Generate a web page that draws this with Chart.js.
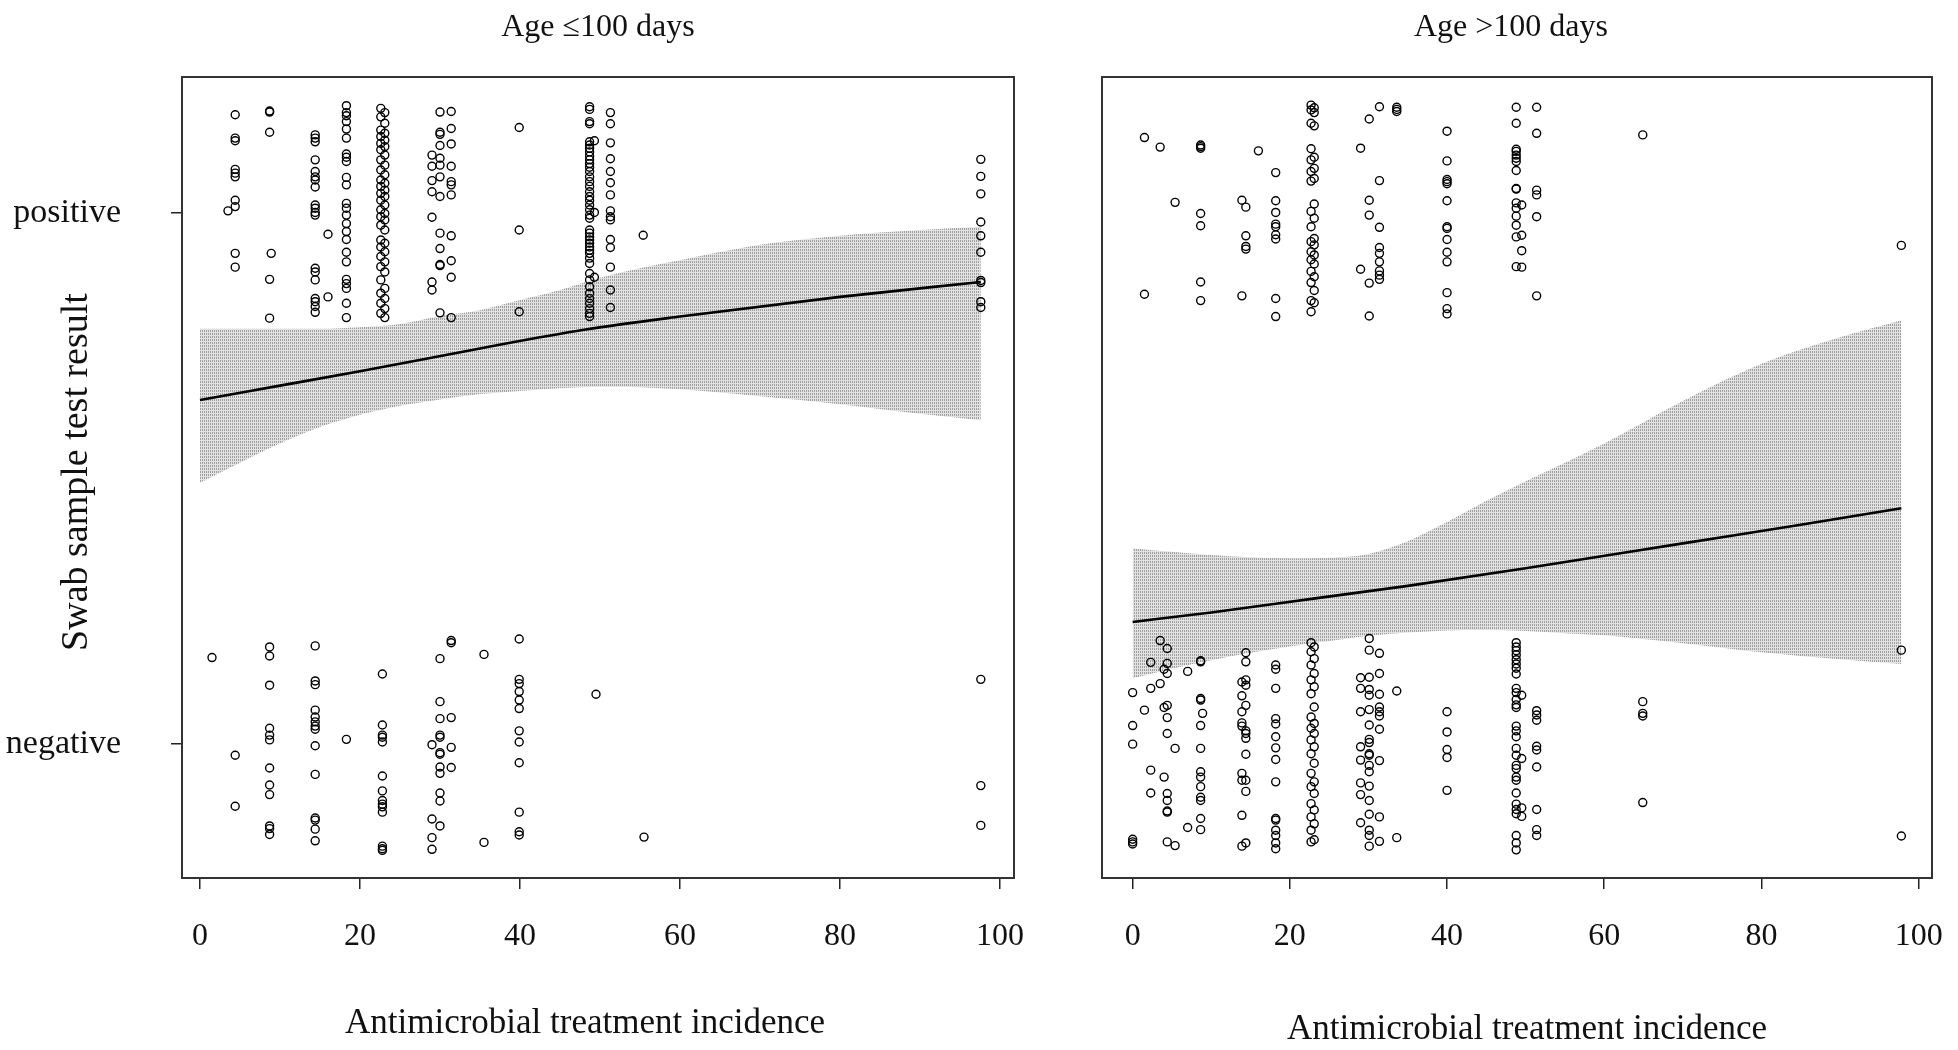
<!DOCTYPE html>
<html>
<head>
<meta charset="utf-8">
<script src="https://cdn.jsdelivr.net/npm/chart.js@4.4.1/dist/chart.umd.min.js"></script>
<style>
  html, body { margin: 0; padding: 0; background: #fff; }
  #wrap { position: relative; width: 1958px; height: 1050px; overflow: hidden; }
  canvas { position: absolute; top: 0; }
  #young { left: 0; }
  #older { left: 1060px; }
</style>
</head>
<body>
<div id="wrap">
  <canvas id="young" width="1060" height="1050"></canvas>
  <canvas id="older" width="898" height="1050"></canvas>
</div>
<script>
'use strict';

// Axis ticks and category labels
let xTicks = [0, 20, 40, 60, 80, 100];
let yCategories = ['negative', 'positive'];

// Age <=100 days : fitted probability and confidence band
let youngFitX = [0, 10, 20, 35, 48, 60, 80, 97.6];
let youngFitY = [0.648, 0.675, 0.702, 0.745, 0.780, 0.805, 0.842, 0.870];
let youngBandX = [0, 5, 10, 15, 20, 25, 30, 35, 40, 45, 50, 55, 60, 70, 80, 90, 97.6];
let youngUpper = [0.782, 0.782, 0.782, 0.782, 0.785, 0.791, 0.806, 0.817, 0.836, 0.855, 0.878, 0.896, 0.911, 0.940, 0.957, 0.968, 0.974];
let youngLower = [0.492, 0.530, 0.566, 0.597, 0.620, 0.637, 0.649, 0.659, 0.665, 0.670, 0.673, 0.672, 0.668, 0.655, 0.640, 0.622, 0.610];

// Age >100 days : fitted probability and confidence band
let olderFitX = [0, 10, 23, 35, 50, 70, 85, 97.8];
let olderFitY = [0.230, 0.248, 0.274, 0.298, 0.331, 0.378, 0.413, 0.444];
let olderBandX = [0, 5, 10, 15, 20, 25, 30, 35, 40, 45, 50, 55, 60, 70, 80, 90, 97.8];
let olderUpper = [0.369, 0.362, 0.356, 0.352, 0.350, 0.351, 0.358, 0.382, 0.418, 0.458, 0.495, 0.530, 0.566, 0.646, 0.716, 0.766, 0.798];
let olderLower = [0.124, 0.142, 0.158, 0.172, 0.184, 0.194, 0.204, 0.210, 0.214, 0.215, 0.213, 0.209, 0.205, 0.190, 0.173, 0.160, 0.151];

// Jittered observations (1 = positive, 0 = negative), grouped by treatment incidence
let youngPosX = [3.5, 4.4, 8.7, 8.9, 14.4, 16.0, 18.3, 22.6, 23.1, 29.0, 30.0, 31.4, 39.9, 48.7, 49.3, 51.3, 55.4, 97.6];
let youngPosY = [
  [1.004],
  [1.185, 1.141, 1.136, 1.082, 1.075, 1.068, 1.024, 1.012, 0.924, 0.898],
  [1.192, 1.190, 1.152, 0.875, 0.802],
  [0.924],
  [1.147, 1.141, 1.134, 1.100, 1.078, 1.068, 1.062, 1.049, 1.015, 1.009, 1.001, 0.996, 0.896, 0.889, 0.874, 0.839, 0.833, 0.824, 0.813],
  [0.960, 0.842],
  [1.202, 1.189, 1.183, 1.172, 1.158, 1.141, 1.111, 1.105, 1.097, 1.067, 1.053, 1.018, 1.009, 0.996, 0.980, 0.965, 0.950, 0.926, 0.908, 0.875, 0.867, 0.858, 0.830, 0.803],
  [1.197, 1.181, 1.156, 1.144, 1.131, 1.119, 1.100, 1.081, 1.062, 1.050, 1.037, 1.024, 1.006, 0.993, 0.977, 0.949, 0.936, 0.918, 0.899, 0.874, 0.849, 0.830, 0.811],
  [1.189, 1.169, 1.150, 1.137, 1.125, 1.109, 1.090, 1.072, 1.056, 1.043, 1.031, 1.015, 0.999, 0.987, 0.968, 0.943, 0.927, 0.908, 0.889, 0.858, 0.839, 0.820, 0.803],
  [1.109, 1.088, 1.061, 1.040, 0.992, 0.870, 0.855],
  [1.190, 1.152, 1.148, 1.127, 1.103, 1.090, 1.068, 1.031, 0.962, 0.933, 0.903, 0.901, 0.812],
  [1.191, 1.159, 1.130, 1.088, 1.059, 1.053, 1.034, 0.957, 0.910, 0.879, 0.803],
  [1.161, 0.968, 0.814],
  [1.200, 1.195, 1.172, 1.168, 1.134, 1.128, 1.122, 1.115, 1.107, 1.100, 1.093, 1.086, 1.078, 1.068, 1.059, 1.050, 1.040, 1.031, 1.024, 1.015, 1.006, 0.996, 0.990, 0.968, 0.962, 0.955, 0.949, 0.943, 0.936, 0.930, 0.924, 0.915, 0.905, 0.886, 0.874, 0.861, 0.849, 0.839, 0.830, 0.820, 0.811, 0.805],
  [1.136, 1.001, 0.879],
  [1.189, 1.168, 1.132, 1.102, 1.078, 1.057, 1.034, 1.004, 0.993, 0.987, 0.950, 0.935, 0.898, 0.855, 0.822],
  [0.958],
  [1.101, 1.069, 1.036, 0.983, 0.957, 0.926, 0.873, 0.869, 0.833, 0.822]
];
let youngNegX = [1.5, 4.4, 8.7, 14.4, 18.3, 22.8, 29.0, 30.0, 31.4, 35.5, 39.9, 49.5, 55.5, 97.6];
let youngNegY = [
  [0.163],
  [-0.021, -0.117],
  [0.183, 0.166, 0.111, 0.030, 0.017, 0.008, -0.045, -0.077, -0.095, -0.154, -0.159, -0.170],
  [0.185, 0.119, 0.112, 0.064, 0.051, 0.042, 0.034, 0.028, -0.003, -0.057, -0.139, -0.143, -0.160, -0.182],
  [0.009],
  [0.132, 0.036, 0.017, 0.013, 0.004, -0.060, -0.088, -0.106, -0.113, -0.118, -0.128, -0.192, -0.197, -0.200],
  [-0.001, -0.141, -0.176, -0.198],
  [0.161, 0.080, 0.048, 0.017, 0.013, -0.016, -0.019, -0.043, -0.055, -0.092, -0.107, -0.154],
  [0.195, 0.191, 0.050, -0.006, -0.044],
  [0.169, -0.185],
  [0.198, 0.122, 0.114, 0.099, 0.083, 0.067, 0.025, 0.004, -0.035, -0.128, -0.165, -0.171],
  [0.094],
  [-0.175],
  [0.122, -0.078, -0.153]
];

let olderPosX = [1.5, 3.5, 5.4, 8.65, 13.9, 14.4, 16.0, 18.2, 22.7, 23.1, 29.0, 30.1, 31.4, 33.6, 40.0, 48.8, 49.5, 51.4, 64.9, 97.8];
let olderPosY = [
  [1.142, 0.847],
  [1.124],
  [1.020],
  [1.128, 1.125, 1.122, 0.999, 0.976, 0.870, 0.835],
  [1.024, 0.844],
  [1.011, 0.957, 0.937, 0.932],
  [1.117],
  [1.076, 1.023, 1.001, 0.979, 0.974, 0.959, 0.951, 0.839, 0.805],
  [1.203, 1.194, 1.169, 1.121, 1.100, 1.078, 1.060, 1.003, 0.974, 0.946, 0.927, 0.912, 0.890, 0.869, 0.835, 0.814],
  [1.198, 1.189, 1.164, 1.105, 1.084, 1.065, 1.017, 0.990, 0.952, 0.940, 0.921, 0.904, 0.880, 0.854, 0.831],
  [1.122, 0.894],
  [1.177, 1.024, 0.996, 0.868, 0.806],
  [1.200, 1.061, 0.973, 0.935, 0.924, 0.908, 0.891, 0.883, 0.875],
  [1.199, 1.195, 1.191],
  [1.154, 1.098, 1.063, 1.059, 1.055, 1.023, 0.974, 0.971, 0.950, 0.926, 0.908, 0.850, 0.820, 0.810],
  [1.199, 1.169, 1.120, 1.116, 1.109, 1.103, 1.097, 1.080, 1.046, 1.045, 1.019, 1.009, 0.994, 0.977, 0.955, 0.899],
  [1.015, 0.958, 0.929, 0.898],
  [1.199, 1.150, 1.043, 1.034, 0.993, 0.844],
  [1.147],
  [0.939]
];
let olderNegX = [0.0, 1.5, 2.3, 3.5, 4.0, 4.4, 5.4, 7.0, 8.65, 8.9, 13.9, 14.4, 18.2, 22.7, 23.1, 29.0, 30.1, 31.4, 33.6, 40.0, 48.8, 49.5, 51.4, 64.9, 97.8];
let olderNegY = [
  [0.097, 0.035, 0.000, -0.179, -0.184, -0.188],
  [0.064],
  [0.154, 0.105, -0.049, -0.092],
  [0.195, 0.114],
  [0.141, 0.069, -0.062],
  [0.180, 0.152, 0.133, 0.073, 0.050, 0.020, -0.093, -0.106, -0.126, -0.128, -0.184],
  [-0.008, -0.191],
  [0.137, -0.157],
  [0.157, 0.155, 0.086, 0.083, 0.035, -0.008, -0.052, -0.062, -0.080, -0.100, -0.106, -0.140, -0.161],
  [0.058],
  [0.117, 0.091, 0.061, 0.040, 0.034, -0.055, -0.068, -0.134, -0.192],
  [0.172, 0.155, 0.121, 0.111, 0.073, 0.025, 0.020, 0.011, -0.019, -0.068, -0.089, -0.186],
  [0.149, 0.141, 0.105, 0.048, 0.038, 0.014, -0.007, -0.029, -0.071, -0.140, -0.143, -0.162, -0.172, -0.186, -0.197],
  [0.191, 0.174, 0.149, 0.121, 0.095, 0.051, 0.030, 0.008, -0.018, -0.055, -0.080, -0.112, -0.137, -0.162, -0.184],
  [0.183, 0.161, 0.133, 0.108, 0.070, 0.039, 0.020, -0.005, -0.036, -0.071, -0.093, -0.124, -0.150, -0.180],
  [0.125, 0.105, 0.061, -0.005, -0.030, -0.073, -0.095, -0.148],
  [0.199, 0.177, 0.126, 0.103, 0.092, 0.065, 0.036, 0.009, 0.003, -0.018, -0.021, -0.040, -0.052, -0.079, -0.106, -0.132, -0.162, -0.172, -0.192],
  [0.171, 0.133, 0.094, 0.070, 0.061, 0.053, 0.028, -0.031, -0.137, -0.183],
  [0.100, -0.176],
  [0.061, 0.023, -0.010, -0.025, -0.087],
  [0.191, 0.183, 0.176, 0.168, 0.159, 0.151, 0.143, 0.132, 0.105, 0.097, 0.084, 0.074, 0.069, 0.034, 0.025, 0.014, -0.008, -0.021, -0.040, -0.046, -0.062, -0.068, -0.092, -0.113, -0.123, -0.131, -0.172, -0.186, -0.199],
  [0.092, -0.027, -0.120, -0.136],
  [0.063, 0.055, 0.045, -0.004, -0.011, -0.043, -0.123, -0.161, -0.172],
  [0.080, 0.058, 0.053, -0.110],
  [0.177, -0.173]
];

const FONT = '"Liberation Serif", "DejaVu Serif", serif';

// dotted grey texture like the printed confidence band
function bandPattern() {
  let c = document.createElement('canvas');
  c.width = 4;
  c.height = 3;
  let g = c.getContext('2d');
  g.fillStyle = '#e2e2e2';
  g.fillRect(0, 0, 4, 3);
  g.fillStyle = '#a0a0a0';
  g.fillRect(0, 0, 1, 2);
  g.fillRect(2, 0, 1, 2);
  return g.createPattern(c, 'repeat');
}

function toXY(xs, ys) {
  let out = [];
  for (let i = 0; i < xs.length; i++) {
    out.push({ x: xs[i], y: ys[i] });
  }
  return out;
}

function columnsToPoints(xs, cols) {
  let out = [];
  for (let i = 0; i < xs.length; i++) {
    for (let j = 0; j < cols[i].length; j++) {
      out.push({ x: xs[i], y: cols[i][j] });
    }
  }
  return out;
}

// frame + titles drawn in the R base-graphics look
function decorPlugin(opts) {
  return {
    id: 'decor',
    afterDraw(chart) {
      let ctx = chart.ctx;
      let a = chart.chartArea;
      ctx.save();
      ctx.strokeStyle = '#333';
      ctx.lineWidth = 2;
      ctx.strokeRect(a.left, a.top, a.right - a.left, a.bottom - a.top);
      ctx.fillStyle = '#111';
      ctx.textAlign = 'center';
      ctx.textBaseline = 'middle';
      ctx.font = '32px ' + FONT;
      ctx.fillText(opts.title, opts.titleX, opts.titleY);
      ctx.font = '35px ' + FONT;
      ctx.fillText(opts.xTitle, opts.xTitleX, opts.xTitleY);
      if (opts.yTitle) {
        ctx.translate(opts.yTitleX, opts.yTitleY);
        ctx.rotate(-Math.PI / 2);
        ctx.font = '38px ' + FONT;
        ctx.fillText(opts.yTitle, 0, 0);
      }
      ctx.restore();
    }
  };
}

function makePanel(canvasId, cfg) {
  let pattern = bandPattern();
  let ctx = document.getElementById(canvasId);
  // eslint-disable-next-line no-undef
  return new Chart(ctx, {
    type: 'scatter',
    data: {
      datasets: [{
        type: 'scatter',
        data: columnsToPoints(cfg.posX, cfg.posY),
        pointStyle: 'circle',
        pointRadius: 4,
        pointBorderWidth: 1.4,
        borderColor: '#000',
        backgroundColor: 'rgba(0,0,0,0)',
        order: 0
      }, {
        type: 'scatter',
        data: columnsToPoints(cfg.negX, cfg.negY),
        pointStyle: 'circle',
        pointRadius: 4,
        pointBorderWidth: 1.4,
        borderColor: '#000',
        backgroundColor: 'rgba(0,0,0,0)',
        order: 0
      }, {
        type: 'line',
        data: toXY(cfg.fitX, cfg.fitY),
        borderColor: '#000',
        borderWidth: 2.6,
        pointRadius: 0,
        tension: 0.4,
        cubicInterpolationMode: 'monotone',
        fill: false,
        order: 1
      }, {
        type: 'line',
        data: toXY(cfg.bandX, cfg.upper),
        borderWidth: 0,
        borderColor: 'rgba(0,0,0,0)',
        backgroundColor: pattern,
        pointRadius: 0,
        cubicInterpolationMode: 'monotone',
        fill: '+1',
        order: 3
      }, {
        type: 'line',
        data: toXY(cfg.bandX, cfg.lower),
        borderWidth: 0,
        borderColor: 'rgba(0,0,0,0)',
        backgroundColor: pattern,
        pointRadius: 0,
        cubicInterpolationMode: 'monotone',
        fill: false,
        order: 2
      }]
    },
    options: {
      responsive: false,
      animation: false,
      events: [],
      layout: { padding: cfg.padding },
      plugins: {
        legend: { display: false },
        tooltip: { enabled: false },
        title: { display: false }
      },
      scales: {
        x: {
          type: 'linear',
          min: cfg.xMin,
          max: cfg.xMax,
          afterBuildTicks: (axis) => { axis.ticks = xTicks.map(v => ({ value: v })); },
          afterFit: (axis) => { axis.height = 172; axis.paddingLeft = 0; axis.paddingRight = 0; },
          grid: { drawOnChartArea: false, drawTicks: true, tickLength: 11, color: '#222', lineWidth: 1.5 },
          border: { display: false },
          ticks: { color: '#111', padding: 28, maxRotation: 0, font: { family: FONT, size: 32 } }
        },
        y: {
          type: 'linear',
          display: cfg.showY,
          min: -0.252,
          max: 1.256,
          afterBuildTicks: (axis) => { axis.ticks = [0, 1].map(v => ({ value: v })); },
          afterFit: (axis) => { axis.width = cfg.yWidth; axis.paddingTop = 0; axis.paddingBottom = 0; },
          grid: { drawOnChartArea: false, drawTicks: true, tickLength: 11, color: '#222', lineWidth: 1.5 },
          border: { display: false },
          ticks: { color: '#111', padding: 50, font: { family: FONT, size: 34 }, callback: (v) => yCategories[v] }
        }
      }
    },
    plugins: [decorPlugin(cfg.decor)]
  });
}

makePanel('young', {
  posX: youngPosX, posY: youngPosY, negX: youngNegX, negY: youngNegY,
  fitX: youngFitX, fitY: youngFitY, bandX: youngBandX, upper: youngUpper, lower: youngLower,
  xMin: -2.25, xMax: 101.75, showY: true, yWidth: 182,
  padding: { left: 0, right: 46, top: 77, bottom: 0 },
  decor: {
    title: 'Age \u2264100 days', titleX: 598, titleY: 28,
    xTitle: 'Antimicrobial treatment incidence', xTitleX: 585, xTitleY: 1024,
    yTitle: 'Swab sample test result', yTitleX: 77, yTitleY: 472
  }
});

makePanel('older', {
  posX: olderPosX, posY: olderPosY, negX: olderNegX, negY: olderNegY,
  fitX: olderFitX, fitY: olderFitY, bandX: olderBandX, upper: olderUpper, lower: olderLower,
  xMin: -3.9, xMax: 101.7, showY: false, yWidth: 0,
  padding: { left: 42, right: 26, top: 77, bottom: 0 },
  decor: {
    title: 'Age >100 days', titleX: 451, titleY: 28,
    xTitle: 'Antimicrobial treatment incidence', xTitleX: 467, xTitleY: 1030
  }
});
</script>
</body>
</html>
